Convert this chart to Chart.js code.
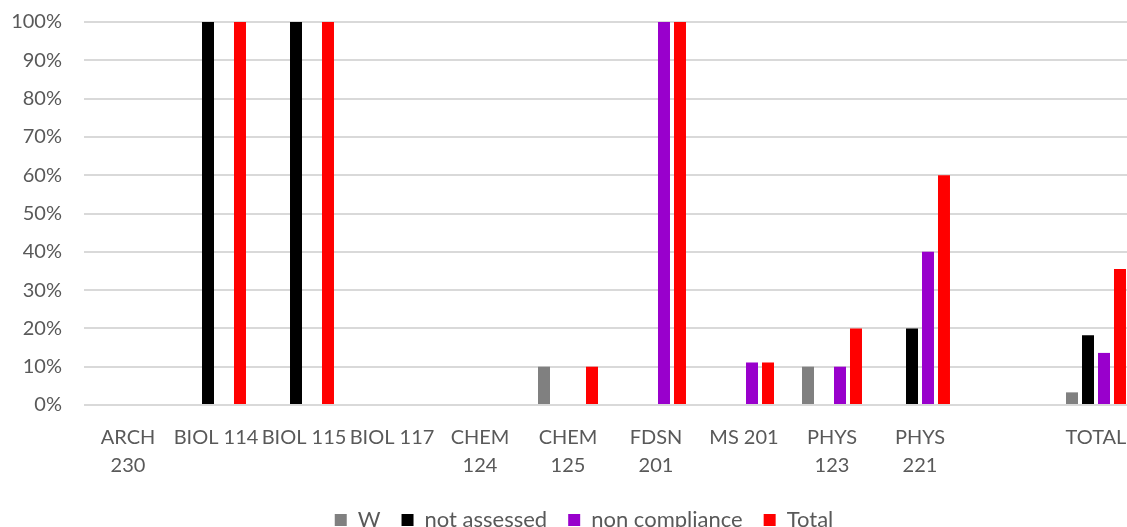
<!DOCTYPE html>
<html>
<head>
<meta charset="utf-8">
<script src="https://cdn.jsdelivr.net/npm/chart.js@4/dist/chart.umd.min.js"></script>
<style>
  html, body { margin: 0; padding: 0; overflow: hidden; background: #ffffff; }
  #wrap { position: relative; width: 1168px; height: 553px; margin-top: -12.5px; }
</style>
</head>
<body>
<div id="wrap"><canvas id="chart"></canvas></div>
<script>
// Course codes (two-line labels wrap like the original layout)
const categories = [
  ["ARCH", "230"], "BIOL 114", "BIOL 115", "BIOL 117",
  ["CHEM", "124"], ["CHEM", "125"], ["FDSN", "201"], "MS 201",
  ["PHYS", "123"], ["PHYS", "221"], "", "TOTAL"
];

// Percent of students per course in each group
const wValues            = [0, 0,   0,   0, 0, 10, 0,   0,    10, 0,  null, 3.3];
const notAssessedValues  = [0, 100, 100, 0, 0, 0,  0,   0,    0,  20, null, 18.2];
const nonComplianceValues= [0, 0,   0,   0, 0, 0,  100, 11.1, 10, 40, null, 13.6];
const totalValues        = [0, 100, 100, 0, 0, 10, 100, 11.1, 20, 60, null, 35.5];

const seriesNames = ["W", "not assessed", "non compliance", "Total"];
const yTicks = [0, 10, 20, 30, 40, 50, 60, 70, 80, 90, 100];

const FONT = "Lato, 'Open Sans', sans-serif";
const TEXT = "#595959";

const ctx = document.getElementById("chart");
new Chart(ctx, {
  type: "bar",
  data: {
    labels: categories,
    datasets: [
      { label: seriesNames[0], data: wValues,             backgroundColor: "#808080" },
      { label: seriesNames[1], data: notAssessedValues,   backgroundColor: "#000000" },
      { label: seriesNames[2], data: nonComplianceValues, backgroundColor: "#9900cc" },
      { label: seriesNames[3], data: totalValues,         backgroundColor: "#ff0000" }
    ]
  },
  options: {
    responsive: true,
    maintainAspectRatio: false,
    animation: false,
    devicePixelRatio: 1,
    datasets: {
      bar: { categoryPercentage: 0.727, barPercentage: 0.75, borderWidth: 0 }
    },
    layout: { padding: { top: 7.5, right: 0, bottom: 0, left: 0 } },
    scales: {
      x: {
        afterFit(scale) { scale.height = scale.height - 11; },
        grid: { display: false, drawTicks: false },
        border: { display: false },
        ticks: {
          autoSkip: false, maxRotation: 0, minRotation: 0,
          padding: 19,
          color: TEXT,
          font: { family: FONT, size: 20, lineHeight: 1.4 }
        }
      },
      y: {
        min: 0, max: 100,
        afterFit(scale) { scale.width = 84; },
        afterBuildTicks(scale) { scale.ticks = yTicks.map(v => ({ value: v })); },
        grid: { color: "#d9d9d9", lineWidth: 2, drawTicks: false },
        border: { display: false },
        ticks: {
          padding: 22,
          color: TEXT,
          font: { family: FONT, size: 20 },
          callback: v => v + "%"
        }
      },
      // empty right-hand gutter so the legend stays centred on the whole canvas
      gutter: {
        type: "linear",
        position: "right",
        afterFit(scale) { scale.width = 28; },
        grid: { display: false, drawTicks: false },
        border: { display: false },
        ticks: { display: false }
      }
    },
    plugins: {
      tooltip: { enabled: false },
      legend: {
        position: "bottom",
        labels: {
          boxWidth: 12, boxHeight: 12, padding: 21,
          color: TEXT,
          font: { family: FONT, size: 22 }
        }
      }
    }
  }
});
</script>
</body>
</html>
